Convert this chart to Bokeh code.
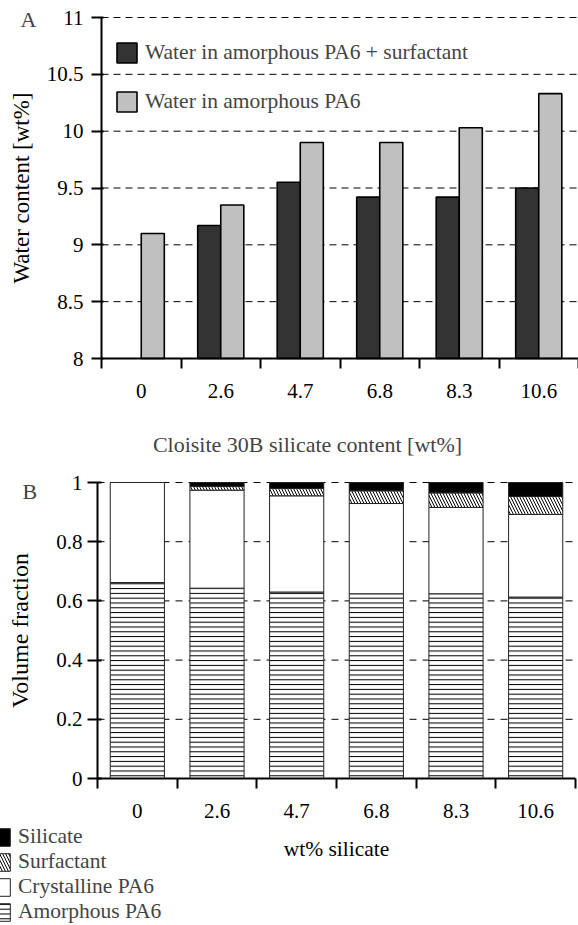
import numpy as np
from bokeh.plotting import figure
from bokeh.models import (FixedTicker, NumeralTickFormatter, CustomJSTickFormatter,
                          Legend, LegendItem, Label, LinearAxis)
from bokeh.layouts import column
from bokeh.embed import file_html
from bokeh.resources import INLINE

# ---------------- data ----------------
categories = ["0", "2.6", "4.7", "6.8", "8.3", "10.6"]

# Panel A: water content [wt%]
water_pa6_surfactant = [np.nan, 9.17, 9.55, 9.42, 9.42, 9.50]
water_pa6 = [9.10, 9.35, 9.90, 9.90, 10.03, 10.33]
top_yticks = [8, 8.5, 9, 9.5, 10, 10.5, 11]

# Panel B: volume fractions
amorphous = [0.662, 0.643, 0.630, 0.624, 0.624, 0.613]
crystalline = [0.338, 0.331, 0.325, 0.305, 0.292, 0.279]
surfactant = [0.000, 0.013, 0.025, 0.043, 0.049, 0.061]
silicate = [0.000, 0.013, 0.020, 0.028, 0.035, 0.047]
bottom_yticks = [0, 0.2, 0.4, 0.6, 0.8, 1.0]

# ---------------- layout (pixels) ----------------
FONT = "Liberation Serif"
TICK_FS = "21px"
W = 578
n = len(categories)
centers = list(np.arange(n) + 0.5)
bounds = list(range(n + 1))

# panel A: figure 578 x 470, axis x=101..578, y(8)=358px, y(11)=17px from top
H1 = 470
A_l, A_r, A_b, A_t = 101, 578, 358, 17
ax_ppu = (A_r - A_l) / n
ay_ppu = (A_b - A_t) / (top_yticks[-1] - top_yticks[0])
A_xr = (-A_l / ax_ppu, (W - A_l) / ax_ppu)
A_yr = (top_yticks[0] - (H1 - A_b) / ay_ppu, top_yticks[-1] + A_t / ay_ppu)

# panel B: figure 578 x 455, axis x=97..575, y(0)=308px, y(1)=12px from top
H2 = 455
B_l, B_r, B_b, B_t = 97, 575, 308, 12
bx_ppu = (B_r - B_l) / n
by_ppu = (B_b - B_t) / 1.0
B_xr = (-B_l / bx_ppu, (W - B_l) / bx_ppu)
B_yr = (0 - (H2 - B_b) / by_ppu, 1 + B_t / by_ppu)


def make_fig(h, xr, yr):
    p = figure(width=W, height=h, x_range=xr, y_range=yr, title=None,
               x_axis_location=None, y_axis_location=None,
               min_border=0, output_backend="svg", toolbar_location=None)
    p.outline_line_color = None
    p.grid.visible = False
    p.background_fill_color = "white"
    p.border_fill_color = "white"
    return p


def make_axes(p, y0, ybounds, yticks):
    xa = LinearAxis(fixed_location=y0, bounds=(0, n))
    ya = LinearAxis(fixed_location=0, bounds=ybounds)
    for ax in (xa, ya):
        ax.axis_line_width = 2
        ax.axis_line_color = "black"
        ax.major_label_text_font = FONT
        ax.major_label_text_font_size = TICK_FS
        ax.major_label_text_color = "black"
        ax.axis_label_text_font = FONT
        ax.axis_label_text_font_style = "normal"
        ax.axis_label_text_color = "black"
    xa.ticker = FixedTicker(ticks=centers, minor_ticks=bounds)
    xa.formatter = CustomJSTickFormatter(args=dict(labels=categories),
                                         code="return labels[Math.floor(tick)];")
    xa.major_tick_in = 0
    xa.major_tick_out = 0
    xa.major_tick_line_color = None
    xa.minor_tick_in = 0
    xa.minor_tick_out = 10
    xa.minor_tick_line_width = 2
    xa.minor_tick_line_color = "black"
    xa.major_label_standoff = 15
    ya.ticker = FixedTicker(ticks=yticks)
    ya.formatter = NumeralTickFormatter(format="0.[0]")
    ya.minor_tick_line_color = None
    ya.major_tick_out = 10
    ya.major_tick_line_width = 2
    ya.major_tick_line_color = "black"
    p.add_layout(xa, "below")
    p.add_layout(ya, "left")
    return xa, ya


# ---------------- Panel A ----------------
p1 = make_fig(H1, A_xr, A_yr)
grid_a = [t for t in top_yticks if t != top_yticks[0]]
p1.segment(x0=0, x1=n, y0=grid_a, y1=grid_a, line_color="black", line_width=1,
           line_dash="7 5")

bw = 0.29
mask = [not np.isnan(v) for v in water_pa6_surfactant]
dark_x = [c - bw / 2 for c, m in zip(centers, mask) if m]
dark_top = [v for v, m in zip(water_pa6_surfactant, mask) if m]
light_x = [c + bw / 2 for c in centers]

r_dark = p1.vbar(x=dark_x, top=dark_top, bottom=top_yticks[0], width=bw,
                 fill_color="#333333", line_color="black", line_width=1.6)
r_light = p1.vbar(x=light_x, top=water_pa6, bottom=top_yticks[0], width=bw,
                  fill_color="#c0c0c0", line_color="black", line_width=1.6)

xa1, ya1 = make_axes(p1, top_yticks[0], (top_yticks[0], top_yticks[-1]), top_yticks)
ya1.major_tick_in = 2
ya1.major_label_standoff = 8
ya1.axis_label = "Water content [wt%]"
ya1.axis_label_text_font_size = "23px"
ya1.axis_label_standoff = 10

legA = Legend(items=[LegendItem(label="Water in amorphous PA6 + surfactant", renderers=[r_dark]),
                     LegendItem(label="Water in amorphous PA6", renderers=[r_light])],
              location=(114, 356), padding=0, margin=0, spacing=24,
              glyph_width=25, glyph_height=25, label_standoff=6,
              label_text_font=FONT, label_text_font_size="21.5px",
              background_fill_alpha=0, border_line_color=None)
p1.add_layout(legA)

p1.add_layout(Label(x=-1.019, y=10.982, text="A", text_font=FONT, text_font_size="22px",
                    text_baseline="alphabetic", text_align="left"))
p1.add_layout(Label(x=2.591, y=7.244, text="Cloisite 30B silicate content [wt%]",
                    text_font=FONT, text_font_size="22px",
                    text_baseline="alphabetic", text_align="center"))

# ---------------- Panel B ----------------
p2 = make_fig(H2, B_xr, B_yr)
grid_b = [t for t in bottom_yticks if t != bottom_yticks[0]]
p2.segment(x0=0, x1=n, y0=grid_b, y1=grid_b, line_color="black", line_width=1,
           line_dash="7 6")

a = np.array(amorphous)
c = np.array(crystalline)
s = np.array(surfactant)
si = np.array(silicate)
b1 = a
b2 = a + c
b3 = b2 + s
b4 = b3 + si

w2 = 0.68
common = dict(width=w2, line_color="#222222", line_width=1)
r_am = p2.vbar(x=centers, bottom=0, top=list(b1), fill_color="white",
               hatch_pattern="horizontal_line", hatch_scale=4.8, hatch_weight=1,
               hatch_color="black", **common)
r_cr = p2.vbar(x=centers, bottom=list(b1), top=list(b2), fill_color="white", **common)
r_su = p2.vbar(x=centers, bottom=list(b2), top=list(b3), fill_color="white",
               hatch_pattern="left_diagonal_line", hatch_scale=6, hatch_weight=1,
               hatch_color="black", **common)
r_si = p2.vbar(x=centers, bottom=list(b3), top=list(b4), fill_color="black", **common)

xa2, ya2 = make_axes(p2, 0, (0, 1), bottom_yticks)
ya2.major_tick_in = 4
ya2.major_label_standoff = 5
ya2.axis_label = "Volume fraction"
ya2.axis_label_text_font_size = "24px"
ya2.axis_label_standoff = 20
xa2.axis_label = "wt% silicate"
xa2.axis_label_text_font_size = "21.5px"
xa2.axis_label_standoff = 16

legB = Legend(items=[LegendItem(label="Silicate", renderers=[r_si]),
                     LegendItem(label="Surfactant", renderers=[r_su]),
                     LegendItem(label="Crystalline PA6", renderers=[r_cr]),
                     LegendItem(label="Amorphous PA6", renderers=[r_am])],
              location=(-10, 1), padding=0, margin=0, spacing=0,
              glyph_width=22, glyph_height=22, label_standoff=6,
              label_text_font=FONT, label_text_font_size="21.5px",
              background_fill_alpha=0, border_line_color=None)
p2.add_layout(legB)

p2.add_layout(Label(x=-0.941, y=0.969, text="B", text_font=FONT, text_font_size="22px",
                    text_baseline="alphabetic", text_align="left"))

layout = column(p1, p2)
open("out.html", "w").write(file_html(layout, INLINE))
